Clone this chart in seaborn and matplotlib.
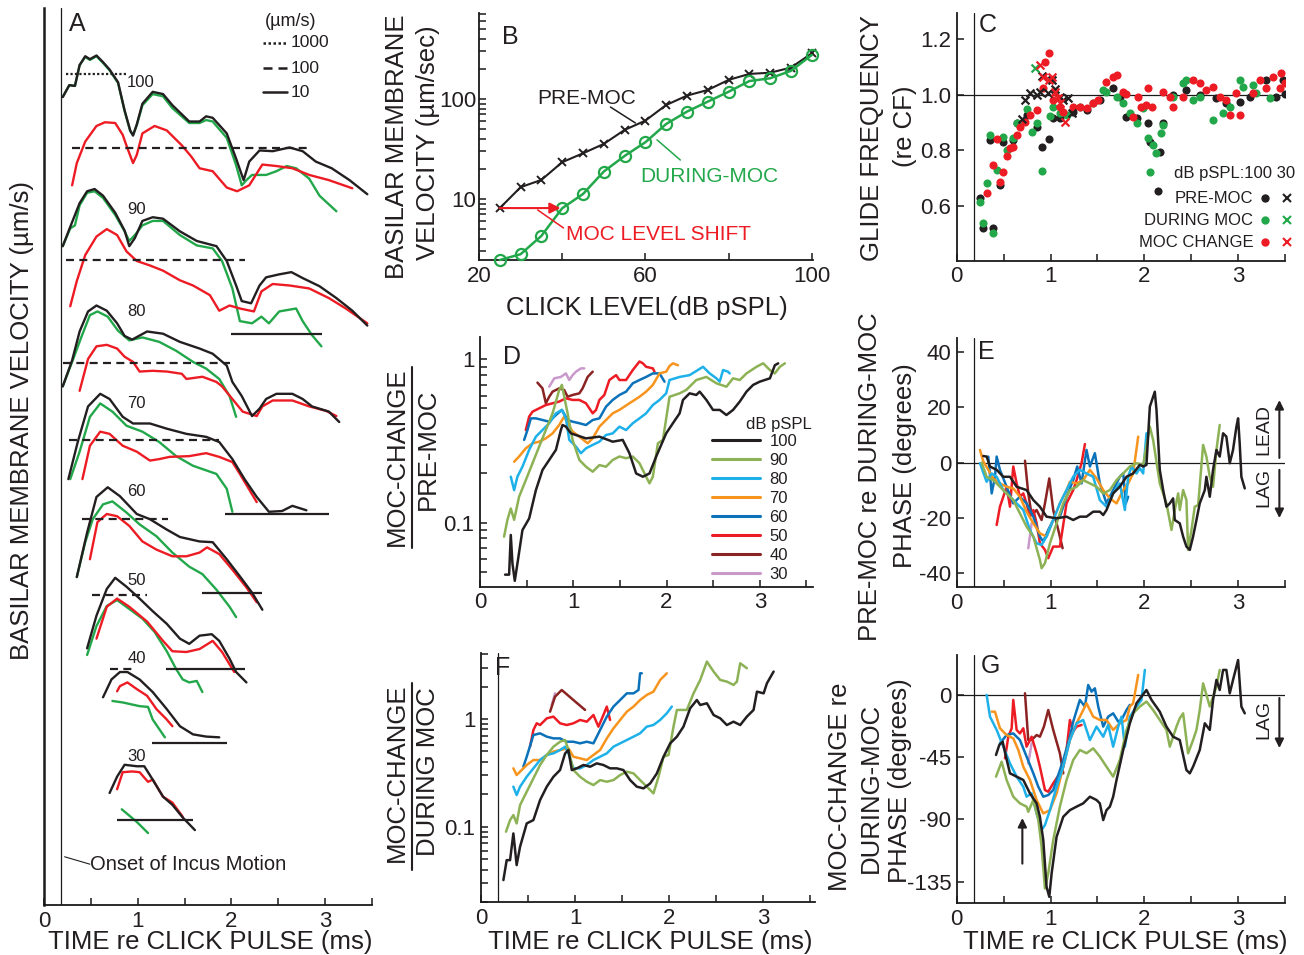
import numpy as np
import matplotlib
matplotlib.use("Agg")
import matplotlib.pyplot as plt
import seaborn as sns
from matplotlib.ticker import MultipleLocator, FixedLocator, FixedFormatter, NullFormatter, LogLocator
from matplotlib.lines import Line2D

# ---------------------------------------------------------------- data
BLACK, GREEN, RED = "#231F20", "#22A84A", "#ED1C24"
LEVELS = [100, 90, 80, 70, 60, 50, 40, 30]
LEVEL_COLORS = ["#231F20", "#8DB255", "#1EB1E9", "#F7941D", "#0B72BA", "#ED1C24", "#8B2323", "#C999CB"]

# Panel A: (time ms, log10 velocity um/s) for PRE-MOC (pre), DURING-MOC (dur), MOC CHANGE (chg)
a100_pre = [(0.20,2.69),(0.27,2.85),(0.33,2.84),(0.38,3.12),(0.44,3.24),(0.49,3.20),(0.56,3.25),(0.63,3.16),(0.70,3.06),(0.79,2.89),(0.86,2.51),(0.92,2.24),(0.95,2.17),(0.99,2.32),(1.05,2.60),(1.16,2.76),(1.27,2.73),(1.37,2.58),(1.55,2.36),(1.66,2.36),(1.73,2.43),(1.80,2.41),(1.95,2.20),(2.05,1.86),(2.13,1.57),(2.19,1.82),(2.30,1.97),(2.44,1.96),(2.62,2.01),(2.76,1.96),(2.90,1.82),(3.07,1.73),(3.26,1.57),(3.45,1.38)]
a100_dur = [(0.20,2.69),(0.27,2.85),(0.33,2.84),(0.38,3.12),(0.44,3.23),(0.49,3.19),(0.56,3.24),(0.63,3.15),(0.70,3.05),(0.79,2.88),(0.86,2.50),(0.92,2.23),(0.95,2.18),(0.99,2.31),(1.05,2.58),(1.16,2.73),(1.27,2.70),(1.37,2.54),(1.55,2.34),(1.66,2.34),(1.73,2.38),(1.80,2.36),(1.95,2.14),(2.05,1.77),(2.11,1.50),(2.16,1.57),(2.22,1.64),(2.37,1.64),(2.48,1.69),(2.59,1.76),(2.69,1.73),(2.83,1.59),(2.94,1.36),(3.12,1.15)]
a100_chg = [(0.30,1.50),(0.35,1.80),(0.44,2.09),(0.56,2.30),(0.65,2.35),(0.76,2.34),(0.84,2.18),(0.89,2.00),(0.95,1.80),(0.99,1.91),(1.05,2.20),(1.18,2.30),(1.31,2.24),(1.47,2.04),(1.57,1.89),(1.66,1.73),(1.80,1.69),(1.95,1.47),(2.06,1.42),(2.19,1.50),(2.33,1.78),(2.48,1.76),(2.65,1.73),(2.83,1.64),(3.04,1.57),(3.29,1.46)]

a90_pre = [(0.20,2.19),(0.28,2.45),(0.38,2.77),(0.46,2.93),(0.54,2.96),(0.63,2.87),(0.76,2.64),(0.86,2.40),(0.91,2.19),(0.97,2.30),(1.05,2.53),(1.16,2.58),(1.27,2.56),(1.45,2.39),(1.63,2.26),(1.84,2.19),(1.95,1.99),(2.05,1.66),(2.11,1.45),(2.21,1.42),(2.30,1.66),(2.37,1.77),(2.51,1.81),(2.64,1.84),(2.76,1.76),(2.94,1.65),(3.12,1.49),(3.29,1.32),(3.45,1.12)]
a90_dur = [(0.20,2.19),(0.28,2.43),(0.33,2.47),(0.38,2.74),(0.46,2.91),(0.54,2.93),(0.63,2.84),(0.76,2.61),(0.86,2.39),(0.91,2.26),(0.97,2.34),(1.05,2.47),(1.16,2.53),(1.27,2.53),(1.45,2.34),(1.63,2.20),(1.80,2.16),(1.90,1.99),(2.01,1.62),(2.09,1.18),(2.22,1.15),(2.32,1.24),(2.40,1.15),(2.51,1.31),(2.69,1.35),(2.76,1.18),(2.86,0.99),(2.96,0.84)]
a90_chg = [(0.28,1.38),(0.35,1.72),(0.44,2.07),(0.56,2.32),(0.67,2.42),(0.78,2.34),(0.88,2.12),(0.99,1.99),(1.13,1.93),(1.27,1.86),(1.45,1.73),(1.59,1.66),(1.77,1.53),(1.87,1.32),(1.98,1.39),(2.09,1.35),(2.24,1.31),(2.32,1.58),(2.44,1.68),(2.62,1.66),(2.83,1.62),(3.04,1.49),(3.22,1.35),(3.45,1.15)]

a80_pre = [(0.20,1.68),(0.30,2.03),(0.38,2.42),(0.47,2.69),(0.56,2.77),(0.67,2.70),(0.78,2.53),(0.86,2.36),(0.94,2.31),(1.10,2.42),(1.27,2.39),(1.45,2.28),(1.66,2.19),(1.80,2.12),(1.95,1.96),(2.01,1.74),(2.11,1.55),(2.22,1.28),(2.30,1.38),(2.37,1.51),(2.48,1.58),(2.65,1.58),(2.76,1.51),(2.86,1.41),(3.04,1.34),(3.15,1.20)]
a80_dur = [(0.20,1.68),(0.30,2.01),(0.40,2.35),(0.49,2.64),(0.57,2.69),(0.68,2.62),(0.79,2.43),(0.91,2.30),(1.05,2.34),(1.23,2.28),(1.41,2.16),(1.59,2.01),(1.73,1.92),(1.87,1.78),(1.98,1.55),(2.05,1.27)]
a80_chg = [(0.38,1.62),(0.47,2.05),(0.56,2.22),(0.67,2.24),(0.78,2.19),(0.86,2.08),(0.95,2.01),(1.02,1.88),(1.16,1.89),(1.31,1.88),(1.47,1.85),(1.52,1.78),(1.69,1.81),(1.84,1.74),(1.90,1.68),(2.01,1.51),(2.12,1.34),(2.27,1.28),(2.33,1.41),(2.44,1.49),(2.65,1.49),(2.83,1.41),(3.01,1.35),(3.12,1.28)]

a70_pre = [(0.26,1.47),(0.36,1.97),(0.47,2.45),(0.60,2.62),(0.70,2.55),(0.84,2.31),(0.95,2.22),(1.13,2.22),(1.31,2.15),(1.52,2.08),(1.73,2.04),(1.87,1.97),(2.01,1.74),(2.14,1.47),(2.27,1.23),(2.40,1.03),(2.54,1.04),(2.65,1.11),(2.80,1.05)]
a70_dur = [(0.28,1.47),(0.38,1.84),(0.49,2.31),(0.60,2.49),(0.73,2.38),(0.88,2.19),(1.05,2.11),(1.23,1.97),(1.41,1.78),(1.59,1.65),(1.84,1.54),(1.95,1.34),(2.01,1.03)]
a70_chg = [(0.41,1.47),(0.49,1.92),(0.60,2.11),(0.70,2.08),(0.84,1.92),(0.99,1.84),(1.13,1.72),(1.23,1.74),(1.34,1.77),(1.55,1.78),(1.73,1.82),(1.87,1.77),(2.01,1.70),(2.09,1.54),(2.27,1.16)]

a60_pre = [(0.35,1.22),(0.46,1.82),(0.56,2.30),(0.68,2.43),(0.81,2.31),(0.99,2.07),(1.13,2.00),(1.31,1.86),(1.45,1.76),(1.66,1.70),(1.80,1.69),(1.95,1.46),(2.09,1.23),(2.22,1.01),(2.33,0.78)]
a60_dur = [(0.35,1.22),(0.44,1.69),(0.52,2.00),(0.63,2.20),(0.73,2.24),(0.88,2.09),(1.02,1.93),(1.20,1.77),(1.37,1.55),(1.55,1.36),(1.69,1.26),(1.84,1.05),(1.98,0.82),(2.05,0.68)]
a60_chg = [(0.49,1.46),(0.57,1.96),(0.67,2.07),(0.78,2.04),(0.91,1.91),(1.05,1.70),(1.20,1.59),(1.37,1.50),(1.52,1.50),(1.66,1.55),(1.74,1.62),(1.87,1.53),(2.01,1.32),(2.16,1.08),(2.27,0.88)]

a50_pre = [(0.46,1.28),(0.56,1.72),(0.67,2.08),(0.76,2.23),(0.88,2.11),(1.02,1.95),(1.16,1.78),(1.31,1.61),(1.45,1.41),(1.55,1.34),(1.66,1.45),(1.79,1.47),(1.87,1.38),(1.98,1.14),(2.05,0.96),(2.16,0.82)]
a50_dur = [(0.46,1.19),(0.56,1.58),(0.67,1.85),(0.78,1.93),(0.91,1.81),(1.05,1.68),(1.18,1.50),(1.31,1.24),(1.41,1.00),(1.48,0.86),(1.55,0.82),(1.63,0.84),(1.69,0.69)]
a50_chg = [(0.56,1.41),(0.67,1.84),(0.78,1.95),(0.91,1.84),(1.10,1.64),(1.27,1.38),(1.37,1.24),(1.52,1.23),(1.66,1.27),(1.80,1.38),(1.90,1.23),(2.03,0.96)]

a40_pre = [(0.63,1.62),(0.72,1.86),(0.81,1.96),(0.89,1.96),(1.02,1.86),(1.16,1.69),(1.31,1.46),(1.45,1.23),(1.59,1.12),(1.73,1.09),(1.87,1.08)]
a40_dur = [(0.73,1.57),(0.84,1.55),(1.02,1.50),(1.11,1.49),(1.16,1.32),(1.29,1.08)]
a40_chg = [(0.78,1.70),(0.81,1.77),(0.89,1.82),(0.99,1.73),(1.10,1.64),(1.20,1.46),(1.31,1.32),(1.37,1.23)]

a30_pre = [(0.70,1.36),(0.78,1.58),(0.86,1.74),(0.99,1.72),(1.07,1.72),(1.16,1.54),(1.27,1.31),(1.37,1.20),(1.48,1.03),(1.61,0.86)]
a30_dur = [(0.83,1.14),(0.99,0.97),(1.11,0.82)]
a30_chg = [(0.78,1.41),(0.84,1.64),(0.94,1.65),(1.02,1.64),(1.11,1.51),(1.16,1.54),(1.27,1.31),(1.37,1.23),(1.48,1.04)]

# vertical stacking offset of each level in panel A (decades)
A_OFFSET = {100: 8.20, 90: 6.69, 80: 5.31, 70: 4.27, 60: 3.20, 50: 2.18, 40: 1.18, 30: 0.15}
A_LABEL_T = [1.03, 0.99, 0.99, 0.99, 0.99, 0.99, 0.99, 0.99]
A_LABEL_LV = [2.88, 2.69, 2.69, 2.49, 2.38, 2.19, 2.14, 1.85]
# scale bars: (level, log10 velocity, t start, t end, kind)
A_BARS = [(100, 3, 0.23, 0.89, "dot"), (100, 2, 0.30, 2.86, "dash"),
          (90, 2, 0.23, 2.14, "dash"), (90, 1, 2.00, 2.97, "solid"),
          (80, 2, 0.20, 1.98, "dash"),
          (70, 2, 0.27, 1.87, "dash"), (70, 1, 1.93, 3.04, "solid"),
          (60, 2, 0.41, 1.32, "dash"), (60, 1, 1.69, 2.33, "solid"),
          (50, 2, 0.51, 1.10, "dash"), (50, 1, 1.30, 2.15, "solid"),
          (40, 2, 0.70, 0.95, "dash"), (40, 1, 1.15, 1.95, "solid"),
          (30, 1, 0.78, 1.59, "solid")]

# Panel B: click level (dB pSPL) vs BM velocity (um/s)
B_level = [25, 30, 35, 40, 45, 50, 55, 60, 65, 70, 75, 80, 85, 90, 95, 100]
B_pre = [8.1, 13.1, 15.5, 23.3, 28.6, 35.5, 49, 60.7, 87, 108, 123, 155, 178, 183, 206, 286]
B_dur = [2.45, 2.8, 4.27, 8.07, 11.2, 18.8, 26.9, 36.9, 56.2, 74.7, 94, 118, 151, 161, 191, 275]

# Panel C: glide frequency (re CF) vs time (ms)
C_pre_100 = [(0.248,0.628),(0.284,0.522),(0.390,0.522),(0.355,0.838),(0.497,0.832),(0.461,0.676),(0.603,0.838),(0.639,0.898),(0.745,0.928),(0.852,0.886),(0.912,0.811),(0.987,0.840),(1.029,0.916),(1.100,0.916),(1.242,0.940),(1.384,0.946),(1.526,0.982),(1.668,1.024),(1.739,0.994),(1.810,0.922),(1.917,0.916),(2.041,0.900),(2.059,0.832),(2.165,0.796),(2.148,0.655),(2.201,0.900),(2.307,1.000),(2.449,1.018),(2.591,1.000),(2.769,0.988),(2.875,0.970),(3.017,0.976),(3.124,0.994),(3.301,1.054),(3.408,0.994),(3.479,1.054),(3.497,1.002)]
C_pre_30 = [(0.692,0.912),(0.728,0.982),(0.781,1.008),(0.852,1.000),(0.887,1.012),(0.905,1.068),(0.976,1.006),(1.012,1.054),(1.047,1.020),(1.100,0.994),(1.136,0.982),(1.189,0.988),(1.225,0.934)]
C_dur_100 = [(0.248,0.613),(0.284,0.540),(0.319,0.682),(0.355,0.856),(0.390,0.502),(0.426,0.730),(0.497,0.850),(0.532,0.802),(0.603,0.844),(0.639,0.900),(0.745,0.948),(0.799,0.868),(0.852,0.898),(0.912,0.727),(0.994,0.924),(1.029,0.958),(1.100,0.934),(1.171,0.928),(1.313,0.958),(1.455,0.970),(1.562,1.018),(1.597,1.012),(1.704,0.994),(1.775,0.970),(1.846,0.934),(1.917,0.898),(1.988,0.952),(2.041,0.844),(2.094,0.820),(2.130,0.790),(2.183,0.862),(2.201,0.892),(2.059,0.721),(2.307,0.994),(2.414,1.044),(2.449,1.054),(2.520,0.982),(2.591,0.994),(2.733,0.910),(2.840,0.934),(2.911,0.958),(3.017,1.054),(3.053,1.030),(3.159,1.036),(3.195,1.006),(3.337,0.988)]
C_dur_30 = [(0.834,1.096)]
C_chg_100 = [(0.319,0.648),(0.390,0.748),(0.426,0.840),(0.461,0.688),(0.497,0.724),(0.532,0.780),(0.568,0.808),(0.603,0.814),(0.639,0.856),(0.674,0.886),(0.728,0.904),(0.781,0.928),(0.852,0.946),(0.923,1.024),(0.941,1.118),(0.987,1.150),(1.029,0.982),(1.100,0.958),(1.136,0.940),(1.242,0.958),(1.313,0.958),(1.384,0.952),(1.455,0.970),(1.509,0.982),(1.597,1.048),(1.668,1.066),(1.704,1.072),(1.775,1.012),(1.810,1.004),(1.881,0.922),(1.935,0.994),(1.970,0.958),(2.023,0.964),(2.077,0.958),(2.041,1.024),(2.201,1.012),(2.272,0.994),(2.307,0.958),(2.414,0.994),(2.520,1.054),(2.591,1.042),(2.662,1.018),(2.733,1.030),(2.804,0.994),(2.875,0.982),(2.911,0.928),(2.982,1.006),(3.017,0.928),(3.159,1.006),(3.230,1.054),(3.301,1.024),(3.372,1.066),(3.443,1.024),(3.461,1.078),(3.497,1.042)]
C_chg_30 = [(0.887,1.108),(0.923,1.064),(0.987,1.054),(1.012,1.066),(1.047,1.012),(1.083,0.988),(1.100,0.970),(1.154,0.904)]

# Panel D: MOC-CHANGE / PRE-MOC ratio vs time, per click level
d100 = [(0.269,0.048),(0.312,0.048),(0.330,0.084),(0.348,0.056),(0.373,0.044),(0.401,0.056),(0.455,0.090),(0.527,0.106),(0.599,0.158),(0.670,0.21),(0.742,0.242),(0.814,0.279),(0.867,0.369),(0.885,0.396),(0.921,0.387),(0.975,0.352),(1.136,0.328),(1.280,0.336),(1.423,0.313),(1.530,0.321),(1.602,0.266),(1.674,0.20),(1.746,0.191),(1.817,0.20),(1.889,0.254),(1.996,0.352),(2.068,0.406),(2.140,0.467),(2.176,0.564),(2.247,0.619),(2.319,0.605),(2.355,0.634),(2.427,0.564),(2.498,0.49),(2.570,0.49),(2.642,0.456),(2.713,0.49),(2.785,0.551),(2.857,0.634),(2.928,0.697),(3.0,0.73),(3.108,0.765),(3.161,0.92),(3.197,0.945)]
d90 = [(0.258,0.082),(0.294,0.104),(0.330,0.122),(0.366,0.104),(0.419,0.144),(0.491,0.182),(0.563,0.231),(0.634,0.292),(0.706,0.369),(0.778,0.467),(0.849,0.649),(0.878,0.697),(0.903,0.59),(0.939,0.467),(0.993,0.321),(1.065,0.242),(1.136,0.22),(1.208,0.205),(1.280,0.225),(1.351,0.22),(1.423,0.242),(1.495,0.254),(1.566,0.248),(1.638,0.254),(1.710,0.231),(1.781,0.191),(1.817,0.174),(1.853,0.191),(1.907,0.306),(1.961,0.321),(2.032,0.59),(2.140,0.619),(2.211,0.649),(2.319,0.747),(2.427,0.78),(2.534,0.713),(2.642,0.68),(2.713,0.765),(2.785,0.747),(2.857,0.82),(2.964,0.90),(3.036,0.945),(3.108,0.86),(3.161,0.82),(3.215,0.90),(3.269,0.945)]
d80 = [(0.330,0.191),(0.366,0.158),(0.401,0.191),(0.455,0.22),(0.527,0.279),(0.599,0.336),(0.670,0.369),(0.742,0.406),(0.814,0.467),(0.878,0.49),(0.921,0.435),(0.957,0.321),(1.029,0.292),(1.082,0.266),(1.136,0.285),(1.208,0.299),(1.280,0.313),(1.351,0.344),(1.423,0.352),(1.495,0.387),(1.566,0.369),(1.638,0.406),(1.710,0.435),(1.781,0.467),(1.853,0.525),(1.925,0.564),(1.996,0.619),(2.032,0.747),(2.140,0.78),(2.247,0.80),(2.391,0.90),(2.462,0.82),(2.534,0.765),(2.570,0.73),(2.606,0.86),(2.659,0.84),(2.677,0.82)]
d70 = [(0.366,0.236),(0.419,0.254),(0.491,0.285),(0.563,0.306),(0.634,0.313),(0.706,0.328),(0.778,0.352),(0.849,0.396),(0.903,0.446),(0.939,0.406),(0.993,0.361),(1.065,0.336),(1.154,0.306),(1.208,0.328),(1.280,0.387),(1.351,0.425),(1.423,0.467),(1.495,0.49),(1.602,0.538),(1.710,0.59),(1.781,0.634),(1.853,0.697),(1.925,0.82),(1.996,0.84),(2.032,0.91),(2.068,0.945),(2.122,0.92)]
d60 = [(0.473,0.321),(0.509,0.369),(0.545,0.435),(0.599,0.435),(0.670,0.425),(0.742,0.415),(0.814,0.456),(0.878,0.49),(0.939,0.425),(0.993,0.415),(1.065,0.406),(1.136,0.396),(1.208,0.425),(1.280,0.435),(1.351,0.513),(1.423,0.564),(1.495,0.605),(1.566,0.634),(1.638,0.713),(1.710,0.747),(1.781,0.78),(1.853,0.82),(1.925,0.82),(1.978,0.73)]
d50 = [(0.491,0.369),(0.527,0.446),(0.563,0.478),(0.634,0.501),(0.706,0.525),(0.778,0.538),(0.849,0.551),(0.921,0.577),(0.993,0.564),(1.065,0.564),(1.136,0.538),(1.208,0.467),(1.244,0.49),(1.280,0.564),(1.333,0.605),(1.387,0.747),(1.459,0.80),(1.495,0.747),(1.566,0.747),(1.638,0.86),(1.710,0.97),(1.746,0.945),(1.781,0.90),(1.853,0.88),(1.871,0.84)]
d40 = [(0.616,0.72),(0.670,0.664),(0.706,0.538),(0.742,0.59),(0.778,0.634),(0.849,0.664),(0.903,0.649),(0.939,0.59),(0.993,0.605),(1.065,0.619),(1.100,0.664),(1.154,0.78),(1.208,0.84)]
d30 = [(0.742,0.68),(0.796,0.765),(0.867,0.78),(0.921,0.82),(0.957,0.747),(0.993,0.80),(1.029,0.84),(1.082,0.88),(1.118,0.88)]

# Panel E: PRE-MOC re DURING-MOC phase (degrees) vs time
e100 = [(0.284,2.4),(0.319,2.2),(0.355,-1.4),(0.426,-2.6),(0.497,-5.1),(0.568,-5.1),(0.639,-8.7),(0.745,-9.9),(0.817,-13.5),(0.887,-15.9),(0.958,-19.5),(1.065,-20.1),(1.171,-19.5),(1.242,-20.7),(1.313,-19.5),(1.384,-19.5),(1.455,-17.7),(1.526,-17.7),(1.562,-18.9),(1.597,-17.1),(1.668,-11.1),(1.739,-8.7),(1.810,-5.1),(1.881,-3.9),(1.952,-0.8),(1.988,-1.4),(2.023,-0.8),(2.059,20.2),(2.112,25.6),(2.130,19.0),(2.165,-2.6),(2.201,-9.9),(2.236,-15.9),(2.272,-14.7),(2.307,-12.9),(2.325,-20.7),(2.378,-21.9),(2.414,-26.7),(2.449,-30.3),(2.485,-31.5),(2.520,-26.7),(2.556,-20.7),(2.591,-14.7),(2.645,-9.9),(2.662,-5.1),(2.698,-12.3),(2.733,-2.6),(2.769,4.6),(2.804,2.2),(2.840,10.6),(2.875,9.4),(2.911,-0.2),(2.946,4.6),(2.982,13.0),(3.0,16.0),(3.017,7.0),(3.035,-5.1),(3.071,-9.3)]
e90 = [(0.266,0.0),(0.319,-5.1),(0.390,-6.3),(0.461,-8.7),(0.532,-11.1),(0.603,-13.5),(0.674,-18.3),(0.745,-23.1),(0.817,-26.7),(0.887,-35.1),(0.905,-38.1),(0.941,-36.3),(0.994,-29.1),(1.065,-21.9),(1.136,-14.7),(1.207,-9.9),(1.278,-8.7),(1.349,-6.3),(1.420,-7.5),(1.491,-8.7),(1.562,-11.1),(1.633,-9.9),(1.704,-6.3),(1.775,-3.9),(1.846,-1.4),(1.917,-0.2),(1.988,-0.8),(2.059,13.0),(2.094,8.2),(2.165,-7.5),(2.236,-14.7),(2.290,-24.3),(2.325,-17.1),(2.361,-11.1),(2.378,-17.1),(2.414,-9.9),(2.449,-13.5),(2.467,-31.5),(2.503,-24.3),(2.538,-15.9),(2.574,-15.3),(2.627,6.4),(2.662,2.2),(2.698,-5.1),(2.733,-8.7),(2.769,4.6),(2.804,13.6)]
e80 = [(0.248,-0.2),(0.319,-6.9),(0.373,-3.9),(0.426,-5.1),(0.497,-9.9),(0.568,-12.3),(0.639,-14.7),(0.710,-17.1),(0.781,-24.3),(0.852,-29.1),(0.905,-29.7),(0.958,-26.7),(1.029,-20.7),(1.100,-14.7),(1.171,-9.9),(1.242,-5.1),(1.313,-2.6),(1.384,-3.9),(1.455,-5.1),(1.526,-13.5),(1.597,-15.9),(1.668,-11.1),(1.739,-7.5),(1.793,-17.1),(1.828,-5.1),(1.864,-1.4),(1.917,-3.9),(1.952,-2.0),(1.988,-3.9),(2.023,10.6)]
e70 = [(0.248,4.6),(0.284,0.4),(0.337,-2.6),(0.390,-5.7),(0.461,-7.5),(0.532,-8.7),(0.603,-9.3),(0.674,-12.3),(0.745,-17.7),(0.817,-21.9),(0.887,-25.5),(0.958,-26.7),(1.029,-20.7),(1.100,-14.7),(1.171,-9.9),(1.207,-6.9),(1.278,-7.5),(1.349,-6.3),(1.420,-2.6),(1.491,-5.7),(1.562,-9.9),(1.633,-12.9),(1.704,-14.7),(1.775,-9.9),(1.828,-7.5),(1.881,-3.9),(1.935,9.4)]
e60 = [(0.337,2.2),(0.373,-11.1),(0.408,-5.1),(0.426,2.2),(0.461,-2.6),(0.532,-8.7),(0.603,-14.7),(0.674,-12.3),(0.745,-14.7),(0.817,-19.5),(0.887,-26.7),(0.923,-28.5),(0.976,-24.3),(1.029,-20.7),(1.100,-19.5),(1.171,-12.3),(1.242,-6.3),(1.285,-1.4),(1.331,-7.5),(1.384,4.6),(1.420,-1.4),(1.473,3.4),(1.526,-7.5),(1.597,-14.7),(1.668,-9.9),(1.739,-5.1),(1.775,-3.9),(1.803,-14.7),(1.828,-12.3)]
e50 = [(0.426,-22.5),(0.461,-15.9),(0.497,-12.3),(0.532,-8.7),(0.568,-15.9),(0.603,-1.4),(0.639,-7.5),(0.674,-12.3),(0.710,-11.1),(0.745,-14.7),(0.781,-19.5),(0.817,-17.1),(0.852,-21.9),(0.887,-29.1),(0.941,-31.5),(0.976,-34.5),(1.029,-30.3),(1.100,-30.3),(1.171,-14.7),(1.242,-9.9),(1.278,-6.3),(1.331,-0.2),(1.367,6.7)]
e40 = [(0.728,0.7),(0.763,-11.1),(0.799,-18.9),(0.852,-17.1),(0.905,-20.7),(0.941,-14.7),(0.987,-5.7),(1.029,-17.1),(1.083,-24.3),(1.129,-30.9)]
e30 = [(0.763,-30.9),(0.799,-21.9)]

# Panel F: MOC-CHANGE / DURING MOC ratio (log10) vs time
f100 = [(0.238,-1.495),(0.273,-1.310),(0.309,-1.310),(0.344,-1.062),(0.379,-1.356),(0.415,-1.186),(0.486,-0.969),(0.557,-0.938),(0.628,-0.752),(0.699,-0.628),(0.770,-0.536),(0.840,-0.474),(0.894,-0.319),(0.929,-0.288),(0.965,-0.474),(1.018,-0.458),(1.089,-0.427),(1.160,-0.443),(1.230,-0.412),(1.301,-0.427),(1.372,-0.458),(1.443,-0.458),(1.514,-0.474),(1.585,-0.567),(1.656,-0.628),(1.727,-0.644),(1.798,-0.598),(1.869,-0.505),(1.940,-0.350),(2.011,-0.226),(2.082,-0.164),(2.152,-0.071),(2.223,0.099),(2.294,0.176),(2.330,0.130),(2.401,0.146),(2.472,0.037),(2.543,0.006),(2.613,-0.056),(2.684,-0.025),(2.755,-0.056),(2.826,0.022),(2.897,0.084),(2.933,0.254),(3.004,0.238),(3.039,0.331),(3.110,0.440)]
f90 = [(0.266,-1.046),(0.309,-0.938),(0.344,-0.892),(0.379,-0.969),(0.415,-0.799),(0.486,-0.675),(0.557,-0.551),(0.628,-0.427),(0.699,-0.334),(0.770,-0.257),(0.840,-0.211),(0.894,-0.195),(0.929,-0.288),(0.982,-0.474),(1.053,-0.536),(1.124,-0.582),(1.195,-0.613),(1.266,-0.567),(1.337,-0.582),(1.408,-0.567),(1.479,-0.520),(1.550,-0.489),(1.621,-0.505),(1.691,-0.567),(1.762,-0.628),(1.833,-0.690),(1.887,-0.536),(1.940,-0.350),(1.993,-0.334),(2.046,-0.071),(2.082,0.084),(2.188,0.084),(2.259,0.238),(2.330,0.362),(2.401,0.533),(2.472,0.440),(2.543,0.362),(2.613,0.347),(2.684,0.316),(2.720,0.347),(2.755,0.517),(2.826,0.471)]
f80 = [(0.344,-0.628),(0.379,-0.706),(0.415,-0.628),(0.486,-0.536),(0.557,-0.458),(0.628,-0.381),(0.699,-0.334),(0.770,-0.319),(0.840,-0.288),(0.894,-0.257),(0.929,-0.319),(0.982,-0.458),(1.053,-0.458),(1.124,-0.427),(1.195,-0.381),(1.266,-0.350),(1.337,-0.319),(1.408,-0.257),(1.479,-0.226),(1.550,-0.195),(1.621,-0.164),(1.691,-0.133),(1.762,-0.071),(1.833,-0.056),(1.904,-0.009),(1.975,0.053),(2.028,0.115)]
f70 = [(0.344,-0.458),(0.379,-0.520),(0.415,-0.489),(0.486,-0.427),(0.557,-0.381),(0.628,-0.381),(0.699,-0.334),(0.770,-0.303),(0.840,-0.288),(0.929,-0.272),(0.982,-0.350),(1.053,-0.365),(1.124,-0.381),(1.195,-0.334),(1.266,-0.288),(1.337,-0.180),(1.408,-0.087),(1.479,-0.009),(1.550,0.068),(1.621,0.115),(1.691,0.176),(1.762,0.223),(1.833,0.254),(1.904,0.362),(1.940,0.393),(1.975,0.424)]
f60 = [(0.450,-0.443),(0.486,-0.350),(0.557,-0.149),(0.628,-0.133),(0.699,-0.164),(0.770,-0.180),(0.840,-0.180),(0.911,-0.211),(0.982,-0.211),(1.053,-0.226),(1.124,-0.211),(1.195,-0.226),(1.266,-0.102),(1.337,0.022),(1.408,0.115),(1.479,0.176),(1.550,0.238),(1.621,0.238),(1.674,0.269),(1.691,0.424),(1.709,0.424)]
f50 = [(0.521,-0.257),(0.557,-0.102),(0.592,-0.040),(0.628,-0.056),(0.699,0.006),(0.770,0.022),(0.840,-0.040),(0.911,-0.056),(0.982,-0.040),(1.053,-0.009),(1.124,-0.025),(1.195,0.037),(1.248,-0.071),(1.301,0.037),(1.337,0.115),(1.372,-0.009)]
f40 = [(0.734,0.068),(0.787,0.207),(0.858,0.269),(0.982,0.176),(1.106,0.084)]
f30 = [(0.752,0.130),(0.787,0.238)]

# Panel G: MOC-CHANGE re DURING-MOC phase (degrees) vs time
g100 = [(0.419,-43.4),(0.454,-36.2),(0.490,-33.8),(0.525,-44.6),(0.568,-56.7),(0.639,-59.1),(0.710,-61.5),(0.781,-71.2),(0.852,-78.4),(0.887,-88.1),(0.923,-105.0),(0.958,-138.8),(0.987,-146.0),(1.012,-129.1),(1.065,-102.6),(1.136,-88.1),(1.207,-83.3),(1.278,-80.8),(1.349,-78.4),(1.420,-73.6),(1.491,-76.0),(1.526,-78.4),(1.562,-90.5),(1.597,-83.3),(1.633,-80.8),(1.668,-73.6),(1.704,-61.5),(1.775,-39.8),(1.846,-20.5),(1.917,-6.0),(1.970,-1.2),(2.023,3.6),(2.077,-3.6),(2.165,-12.1),(2.236,-22.9),(2.307,-30.2),(2.378,-32.6),(2.449,-54.3),(2.485,-56.7),(2.520,-51.9),(2.591,-39.8),(2.645,-20.5),(2.698,-25.3),(2.733,-3.6),(2.769,10.9),(2.804,3.6),(2.840,18.1),(2.875,18.1),(2.911,1.2),(2.946,10.9),(3.0,25.3),(3.035,-8.4),(3.071,-13.3)]
g90 = [(0.419,-59.1),(0.479,-48.3),(0.532,-61.5),(0.603,-73.6),(0.674,-78.4),(0.745,-80.8),(0.763,-84.5),(0.817,-76.0),(0.870,-90.5),(0.905,-109.8),(0.941,-140.0),(0.976,-129.1),(1.029,-105.0),(1.100,-80.8),(1.171,-61.5),(1.242,-47.1),(1.313,-39.8),(1.384,-42.2),(1.455,-38.6),(1.526,-44.6),(1.597,-51.9),(1.668,-59.1),(1.739,-47.1),(1.810,-25.3),(1.881,-13.3),(1.952,-8.4),(2.023,-4.8),(2.094,-10.9),(2.165,-18.1),(2.236,-25.3),(2.272,-37.4),(2.307,-30.2),(2.343,-22.9),(2.378,-16.9),(2.414,-13.3),(2.467,-42.2),(2.520,-32.6),(2.556,-25.3),(2.591,-10.9),(2.627,8.4),(2.698,-8.4),(2.769,6.0),(2.804,18.1)]
g80 = [(0.319,0.0),(0.355,-15.7),(0.426,-25.3),(0.497,-37.4),(0.568,-49.5),(0.639,-59.1),(0.710,-66.4),(0.745,-73.6),(0.799,-71.2),(0.852,-85.7),(0.905,-97.7),(0.941,-94.1),(0.994,-83.3),(1.065,-66.4),(1.136,-51.9),(1.207,-32.6),(1.278,-20.5),(1.349,-18.1),(1.420,-32.6),(1.491,-22.9),(1.562,-30.2),(1.615,-21.7),(1.668,-37.4),(1.722,-22.9),(1.757,-15.7),(1.793,-37.4),(1.846,-15.7),(1.917,-8.4),(1.970,-3.6),(2.006,18.1)]
g70 = [(0.373,-12.1),(0.408,-12.1),(0.461,-24.1),(0.532,-29.0),(0.603,-31.4),(0.657,-39.8),(0.710,-51.9),(0.781,-61.5),(0.852,-76.0),(0.923,-85.7),(0.994,-83.3),(1.065,-71.2),(1.136,-51.9),(1.207,-32.6),(1.278,-20.5),(1.349,-10.9),(1.384,-6.0),(1.455,-15.7),(1.526,-18.1),(1.597,-18.1),(1.668,-25.3),(1.739,-20.5),(1.810,-18.1),(1.846,-8.4),(1.881,-6.0),(1.935,14.5)]
g60 = [(0.461,-35.0),(0.532,-29.0),(0.603,-27.8),(0.674,-32.6),(0.745,-44.6),(0.817,-56.7),(0.870,-66.4),(0.923,-73.6),(0.976,-72.4),(1.029,-68.8),(1.083,-57.9),(1.136,-47.1),(1.207,-30.2),(1.242,-19.3),(1.313,-3.6),(1.367,-8.4),(1.402,7.2),(1.438,2.4),(1.473,4.8),(1.509,-8.4),(1.562,-22.9),(1.615,-15.7),(1.668,-13.3),(1.722,-19.3),(1.757,-18.1),(1.810,-10.9),(1.846,-7.2)]
g50 = [(0.515,-45.8),(0.550,-30.2),(0.586,-24.1),(0.603,-3.6),(0.639,-25.3),(0.674,-27.8),(0.710,-24.1),(0.745,-37.4),(0.799,-30.2),(0.852,-42.2),(0.887,-51.9),(0.941,-68.8),(0.976,-70.0),(1.029,-63.9),(1.100,-56.7),(1.136,-51.9),(1.171,-39.8),(1.207,-18.1),(1.242,-26.5),(1.278,-22.9),(1.331,-21.7)]
g40 = [(0.728,1.2),(0.763,-32.6),(0.799,-32.6),(0.852,-29.0),(0.887,-30.2),(0.930,-22.9),(0.976,-10.9),(1.029,-25.3),(1.100,-42.2),(1.136,-56.7)]
g30 = [(0.763,-49.5),(0.799,-35.0)]

ONSET_T = 0.18

# ---------------------------------------------------------------- style
sns.set_theme(style="ticks")
plt.rcParams["font.family"] = ["Liberation Sans", "DejaVu Sans"]
plt.rcParams["axes.unicode_minus"] = False

W, H = 1304, 955
fig = plt.figure(figsize=(W / 100, H / 100), dpi=100)
fig.patch.set_facecolor("white")


def add_ax(x0, y0, x1, y1):
    return fig.add_axes([x0 / W, 1 - y1 / H, (x1 - x0) / W, (y1 - y0) / H])


def ftext(px, py, s, **kw):
    kw.setdefault("ha", "center")
    kw.setdefault("va", "center")
    fig.text(px / W, 1 - py / H, s, **kw)


def style(ax, time_axis=True):
    sns.despine(ax=ax)
    for s in ("left", "bottom"):
        ax.spines[s].set_linewidth(1.3)
        ax.spines[s].set_color("k")
    ax.tick_params(which="both", direction="in", length=5, width=1.1,
                   labelsize=16, color="k", labelcolor="#231F20", pad=4)
    if time_axis:
        ax.xaxis.set_major_locator(MultipleLocator(1))
        ax.xaxis.set_minor_locator(MultipleLocator(0.5))
    ax.set_facecolor("white")
    ax.grid(False)


def line(ax, pts, color, lw=1.7, tf=None, z=2):
    t, v = np.array(pts, dtype=float).T
    if tf is not None:
        v = tf(v)
    sns.lineplot(x=t, y=v, ax=ax, color=color, lw=lw, estimator=None,
                 sort=False, zorder=z)


LAB = 18.5
TXT = "#231F20"

# ---------------------------------------------------------------- Panel A
axA = add_ax(44, 8, 372, 905)
A_TRACES = [(100, a100_pre, a100_dur, a100_chg), (90, a90_pre, a90_dur, a90_chg),
            (80, a80_pre, a80_dur, a80_chg), (70, a70_pre, a70_dur, a70_chg),
            (60, a60_pre, a60_dur, a60_chg), (50, a50_pre, a50_dur, a50_chg),
            (40, a40_pre, a40_dur, a40_chg), (30, a30_pre, a30_dur, a30_chg)]
for lev, pre, dur, chg in A_TRACES:
    off = A_OFFSET[lev]
    line(axA, dur, GREEN, tf=lambda v, o=off: v + o)
    line(axA, chg, RED, tf=lambda v, o=off: v + o)
    line(axA, pre, BLACK, tf=lambda v, o=off: v + o, z=3)
bar_styles = {"dot": (0, (1, 1)), "dash": (0, (3.6, 2.4)), "solid": "-"}
for lev, lv, t0, t1, kind in A_BARS:
    axA.hlines(lv + A_OFFSET[lev], t0, t1, colors=BLACK, lw=1.6,
               linestyles=[bar_styles[kind]], zorder=4)
for lev, tl, lvl in zip(LEVELS, A_LABEL_T, A_LABEL_LV):
    axA.text(tl, lvl + A_OFFSET[lev], str(lev), ha="center", va="center",
             fontsize=12, color=TXT)
axA.axvline(ONSET_T, color="k", lw=0.9)
axA.set_xlim(0, 3.5)
axA.set_ylim(0, 12.09)
style(axA)
axA.spines["left"].set_linewidth(1.8)
axA.set_yticks([])
# scale legend
for yy, ls, lab in ((0.961, (0, (1, 1)), "1000"), (0.933, (0, (3.6, 2.4)), "100"),
                    (0.906, "-", "10")):
    axA.add_line(Line2D([0.668, 0.741], [yy, yy], transform=axA.transAxes,
                        color=BLACK, lw=1.8, linestyle=ls))
    axA.text(0.752, yy, lab, transform=axA.transAxes, ha="left", va="center",
             fontsize=12.5, color=TXT)
axA.text(0.753, 0.985, "(µm/s)", transform=axA.transAxes, ha="center",
         va="center", fontsize=13, color=TXT)
axA.annotate("", xy=(0.22, 0.65), xytext=(0.49, 0.55),
             arrowprops=dict(arrowstyle="-", color=BLACK, lw=0.8, shrinkA=0, shrinkB=0))
axA.text(0.49, 0.55, "Onset of Incus Motion", ha="left", va="center",
         fontsize=14.5, color=TXT)
ftext(22, 421, "BASILAR MEMBRANE VELOCITY (µm/s)", rotation=90, fontsize=LAB, color=TXT)
ftext(210, 942, "TIME re CLICK PULSE (ms)", fontsize=LAB, color=TXT)
ftext(77, 24, "A", fontsize=18, color=TXT)

# ---------------------------------------------------------------- Panel B
axB = add_ax(479, 13, 813, 260)
sns.lineplot(x=B_level, y=B_pre, ax=axB, color=BLACK, lw=1.5, estimator=None,
             marker="x", markersize=6, markeredgewidth=1.4,
             markeredgecolor=BLACK, clip_on=False, zorder=3)
sns.lineplot(x=B_level, y=B_dur, ax=axB, color=GREEN, lw=1.8, estimator=None,
             marker="o", markersize=8, markerfacecolor="none",
             markeredgewidth=1.6, markeredgecolor=GREEN, clip_on=False, zorder=3)
axB.set_yscale("log")
axB.set_xlim(20, 100.3)
axB.set_ylim(2.45, 724)
style(axB, time_axis=False)
axB.xaxis.set_major_locator(FixedLocator([20, 60, 100]))
axB.xaxis.set_minor_locator(FixedLocator([40, 80]))
axB.yaxis.set_major_locator(FixedLocator([10, 100]))
axB.yaxis.set_major_formatter(FixedFormatter(["10", "100"]))
axB.yaxis.set_minor_locator(LogLocator(base=10, subs=np.arange(2, 10)))
axB.yaxis.set_minor_formatter(NullFormatter())
axB.tick_params(axis="y", pad=2)
axB.text(34, 100, "PRE-MOC", ha="left", va="center", fontsize=15, color=TXT)
axB.annotate("", xy=(57.6, 57.5), xytext=(51.6, 83),
             arrowprops=dict(arrowstyle="-", color=BLACK, lw=1.1, shrinkA=0, shrinkB=0))
axB.text(58.8, 16.6, "DURING-MOC", ha="left", va="center", fontsize=15, color=GREEN)
axB.annotate("", xy=(68.4, 24.5), xytext=(62.8, 39),
             arrowprops=dict(arrowstyle="-", color=GREEN, lw=1.1, shrinkA=0, shrinkB=0))
axB.annotate("", xy=(39.6, 8.1), xytext=(25, 8.1),
             arrowprops=dict(arrowstyle="-|>", color=RED, lw=1.5, mutation_scale=16,
                             shrinkA=0, shrinkB=0))
axB.annotate("", xy=(40.3, 5.13), xytext=(34.1, 7.76),
             arrowprops=dict(arrowstyle="-", color=RED, lw=1.1, shrinkA=0, shrinkB=0))
axB.text(40.8, 4.37, "MOC LEVEL SHIFT", ha="left", va="center", fontsize=15, color=RED)
ftext(397, 147, "BASILAR MEMBRANE", rotation=90, fontsize=LAB, color=TXT)
ftext(428, 143, "VELOCITY (µm/sec)", rotation=90, fontsize=LAB, color=TXT)
ftext(647, 308, "CLICK LEVEL(dB pSPL)", fontsize=LAB, color=TXT)
ftext(510, 37, "B", fontsize=18, color=TXT)

# ---------------------------------------------------------------- Panel C
axC = add_ax(956.7, 13, 1285, 260.7)
axC.axhline(1.0, color="k", lw=0.9, zorder=1)
axC.axvline(ONSET_T, color="k", lw=0.9, zorder=1)
for pts, col in ((C_pre_100, BLACK), (C_dur_100, GREEN), (C_chg_100, RED)):
    t, y = np.array(pts).T
    sns.scatterplot(x=t, y=y, ax=axC, color=col, s=34, linewidth=0, zorder=3)
for pts, col in ((C_pre_30, BLACK), (C_dur_30, GREEN), (C_chg_30, RED)):
    t, y = np.array(pts).T
    sns.scatterplot(x=t, y=y, ax=axC, color=col, marker="x", s=32, linewidth=1.6, zorder=4)
axC.set_xlim(0, 3.5)
axC.set_ylim(0.403, 1.295)
style(axC)
axC.yaxis.set_major_locator(FixedLocator([0.6, 0.8, 1.0, 1.2]))
axC.yaxis.set_major_formatter(FixedFormatter(["0.6", "0.8", "1.0", "1.2"]))
axC.text(1.03, 0.354, "dB pSPL:100 30", transform=axC.transAxes, ha="right",
         va="center", fontsize=12, color=TXT)
for yy, lab, col in ((0.253, "PRE-MOC", BLACK), (0.164, "DURING MOC", GREEN),
                     (0.075, "MOC CHANGE", RED)):
    axC.text(0.903, yy, lab, transform=axC.transAxes, ha="right", va="center",
             fontsize=12, color=TXT)
    axC.plot([0.939], [yy], "o", transform=axC.transAxes, color=col, ms=6,
             mew=0, clip_on=False)
    axC.plot([1.006], [yy], "x", transform=axC.transAxes, color=col, ms=6,
             mew=1.5, clip_on=False)
ftext(872, 138, "GLIDE FREQUENCY", rotation=90, fontsize=LAB, color=TXT)
ftext(905, 126, "(re CF)", rotation=90, fontsize=LAB, color=TXT)
ftext(988, 25, "C", fontsize=18, color=TXT)

D_TRACES = [d100, d90, d80, d70, d60, d50, d40, d30]
E_TRACES = [e100, e90, e80, e70, e60, e50, e40, e30]
F_TRACES = [f100, f90, f80, f70, f60, f50, f40, f30]
G_TRACES = [g100, g90, g80, g70, g60, g50, g40, g30]

# ---------------------------------------------------------------- Panel D
axD = add_ax(480, 337, 813, 586.7)
for i in range(len(LEVELS) - 1, -1, -1):
    line(axD, D_TRACES[i], LEVEL_COLORS[i], lw=1.8, z=2 + (8 - i) * 0.1)
axD.set_yscale("log")
axD.set_xlim(0, 3.57)
axD.set_ylim(0.0405, 1.37)
style(axD)
axD.yaxis.set_major_locator(FixedLocator([0.1, 1]))
axD.yaxis.set_major_formatter(FixedFormatter(["0.1", "1"]))
axD.yaxis.set_minor_locator(LogLocator(base=10, subs=np.arange(2, 10)))
axD.yaxis.set_minor_formatter(NullFormatter())
handles = [Line2D([], [], color=c, lw=2.2) for c in LEVEL_COLORS]
leg = axD.legend(handles, [str(l) for l in LEVELS],
                 loc="upper left", bbox_to_anchor=(0.697, 0.612), frameon=False,
                 fontsize=12, handlelength=2.9, handletextpad=0.55,
                 labelspacing=0.24, borderpad=0, borderaxespad=0)
for t in leg.get_texts():
    t.set_color(TXT)
axD.text(0.898, 0.648, "dB pSPL", transform=axD.transAxes, ha="center",
         va="center", fontsize=12, color=TXT)
ftext(397, 457, "MOC-CHANGE", rotation=90, fontsize=LAB, color=TXT)
ftext(428, 449, "PRE-MOC", rotation=90, fontsize=LAB, color=TXT)
fig.add_artist(Line2D([411.7 / W, 411.7 / W], [1 - 367 / H, 1 - 548 / H],
                      color=BLACK, lw=1.5, transform=fig.transFigure))
ftext(512, 357, "D", fontsize=18, color=TXT)

# ---------------------------------------------------------------- Panel E
axE = add_ax(956.7, 338, 1285, 587.3)
axE.axhline(0, color="k", lw=0.9, zorder=1)
axE.axvline(ONSET_T, color="k", lw=0.9, zorder=1)
for i in range(len(LEVELS) - 1, -1, -1):
    line(axE, E_TRACES[i], LEVEL_COLORS[i], lw=1.8, z=2 + (8 - i) * 0.1)
axE.set_xlim(0, 3.5)
axE.set_ylim(-45, 45)
style(axE)
axE.yaxis.set_major_locator(FixedLocator([-40, -20, 0, 20, 40]))
axE.text(3.28, 11.8, "LEAD", rotation=90, ha="center", va="center", fontsize=14, color=TXT)
axE.text(3.28, -9.1, "LAG", rotation=90, ha="center", va="center", fontsize=14, color=TXT)
axE.annotate("", xy=(3.44, 22.6), xytext=(3.44, 1.7), annotation_clip=False,
             arrowprops=dict(arrowstyle="-|>", color=BLACK, lw=1.5, mutation_scale=13,
                             shrinkA=0, shrinkB=0))
axE.annotate("", xy=(3.44, -20), xytext=(3.44, -2.6), annotation_clip=False,
             arrowprops=dict(arrowstyle="-|>", color=BLACK, lw=1.5, mutation_scale=13,
                             shrinkA=0, shrinkB=0))
ftext(870, 477, "PRE-MOC re DURING-MOC", rotation=90, fontsize=LAB, color=TXT)
ftext(905, 466, "PHASE (degrees)", rotation=90, fontsize=LAB, color=TXT)
ftext(986, 352, "E", fontsize=18, color=TXT)

# ---------------------------------------------------------------- Panel F
axF = add_ax(481, 653.3, 815, 902.3)
axF.axvline(ONSET_T, color="k", lw=0.9, zorder=1)
for i in range(len(LEVELS) - 1, -1, -1):
    line(axF, F_TRACES[i], LEVEL_COLORS[i], lw=1.8, tf=lambda v: 10.0 ** v,
         z=2 + (8 - i) * 0.1)
axF.set_yscale("log")
axF.set_xlim(0, 3.55)
axF.set_ylim(0.0199, 4.07)
style(axF)
axF.yaxis.set_major_locator(FixedLocator([0.1, 1]))
axF.yaxis.set_major_formatter(FixedFormatter(["0.1", "1"]))
axF.yaxis.set_minor_locator(LogLocator(base=10, subs=np.arange(2, 10)))
axF.yaxis.set_minor_formatter(NullFormatter())
ftext(397, 773, "MOC-CHANGE", rotation=90, fontsize=LAB, color=TXT)
ftext(428, 772, "DURING MOC", rotation=90, fontsize=LAB, color=TXT)
fig.add_artist(Line2D([412 / W, 412 / W], [1 - 683 / H, 1 - 870 / H],
                      color=BLACK, lw=1.5, transform=fig.transFigure))
ftext(650, 942, "TIME re CLICK PULSE (ms)", fontsize=LAB, color=TXT)
ftext(503, 668, "F", fontsize=18, color=TXT)

# ---------------------------------------------------------------- Panel G
axG = add_ax(956.7, 655, 1285, 903.3)
axG.axhline(0, color="k", lw=0.9, zorder=1)
axG.axvline(ONSET_T, color="k", lw=0.9, zorder=1)
for i in range(len(LEVELS) - 1, -1, -1):
    line(axG, G_TRACES[i], LEVEL_COLORS[i], lw=1.8, z=2 + (8 - i) * 0.1)
axG.set_xlim(0, 3.5)
axG.set_ylim(-150.7, 28.9)
style(axG)
axG.yaxis.set_major_locator(FixedLocator([-135, -90, -45, 0]))
axG.text(3.28, -18, "LAG", rotation=90, ha="center", va="center", fontsize=14, color=TXT)
axG.annotate("", xy=(3.44, -38.4), xytext=(3.44, -2.2), annotation_clip=False,
             arrowprops=dict(arrowstyle="-|>", color=BLACK, lw=1.5, mutation_scale=13,
                             shrinkA=0, shrinkB=0))
axG.annotate("", xy=(0.70, -89), xytext=(0.70, -122),
             arrowprops=dict(arrowstyle="-|>", color=BLACK, lw=1.5, mutation_scale=13,
                             shrinkA=0, shrinkB=0))
ftext(840, 787, "MOC-CHANGE re", rotation=90, fontsize=LAB, color=TXT)
ftext(871, 788, "DURING-MOC", rotation=90, fontsize=LAB, color=TXT)
ftext(900, 781, "PHASE (degrees)", rotation=90, fontsize=LAB, color=TXT)
ftext(1125, 942, "TIME re CLICK PULSE (ms)", fontsize=LAB, color=TXT)
ftext(990, 666, "G", fontsize=18, color=TXT)

for ax in (axA, axB, axC, axD, axE, axF, axG):
    ax.set_xlabel("")
    ax.set_ylabel("")

fig.savefig("out.png", dpi=100, facecolor="white")
